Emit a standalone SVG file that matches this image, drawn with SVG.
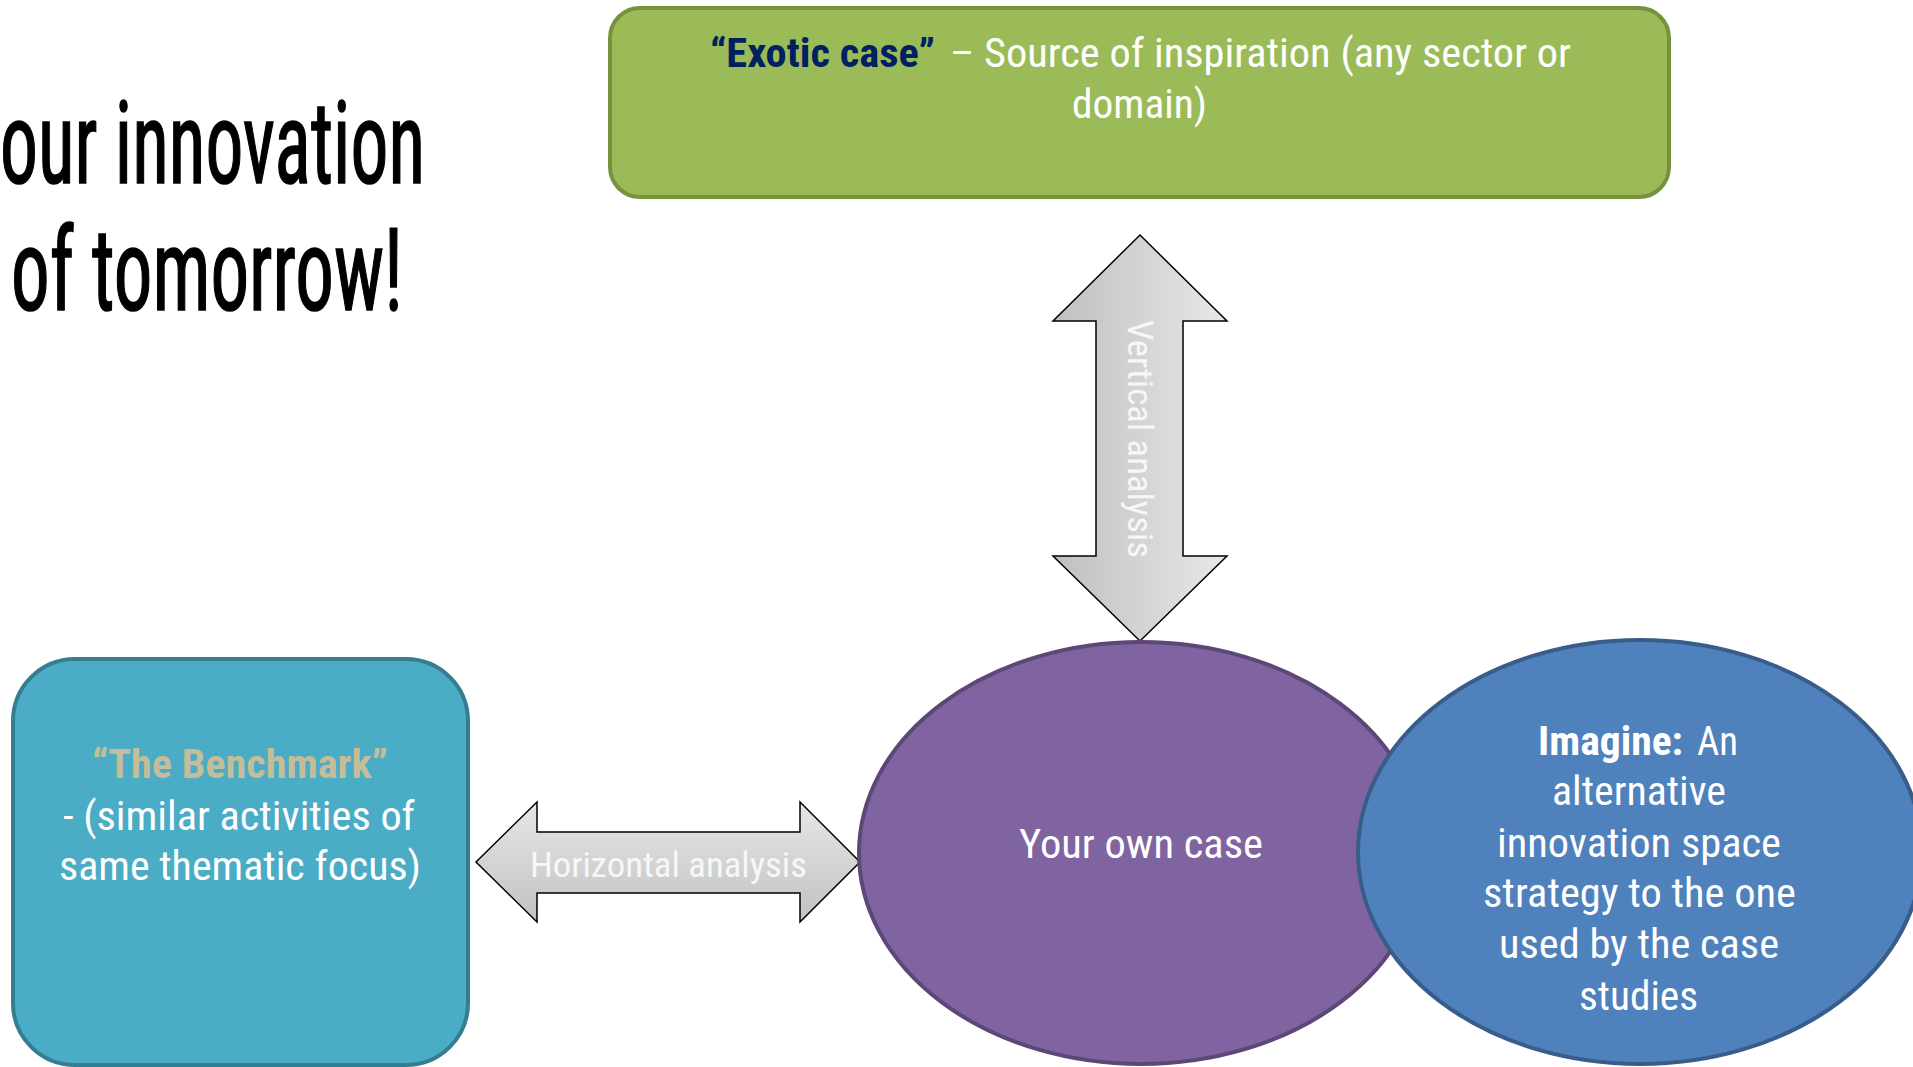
<svg xmlns="http://www.w3.org/2000/svg" width="1913" height="1067" viewBox="0 0 1913 1067">
<style>
  .t { font-family: "Roboto Condensed", Roboto, "Liberation Sans", sans-serif; font-size: 40px; fill: #ffffff; }
  .b { font-weight: bold; }
  .arrowtxt { font-family: "Roboto Condensed", Roboto, "Liberation Sans", sans-serif; font-size: 35px; fill: #f7f7f7; font-weight: normal; }
  .title { font-family: "Roboto Condensed", Roboto, "Liberation Sans", sans-serif; font-size: 115px; font-weight: normal; fill: #000000; stroke: #000000; stroke-width: 1.5; }
  .arrow { stroke: #000000; stroke-width: 1.5; stroke-linejoin: miter; }
</style>
<defs>
  <linearGradient id="gv" x1="0" y1="0" x2="1" y2="0">
    <stop offset="0" stop-color="#bfbfbf"/>
    <stop offset="1" stop-color="#e8e8e8"/>
  </linearGradient>
  <linearGradient id="gh" x1="0" y1="0" x2="0" y2="1">
    <stop offset="0" stop-color="#e6e6e6"/>
    <stop offset="1" stop-color="#c2c2c2"/>
  </linearGradient>
</defs>
<rect width="1913" height="1067" fill="#ffffff"/>

<g id="title">
  <text class="title" x="0" y="183" textLength="425" lengthAdjust="spacingAndGlyphs">our innovation</text>
  <text class="title" x="11" y="310" textLength="392" lengthAdjust="spacingAndGlyphs">of tomorrow!</text>
</g>

<g id="exotic">
  <rect x="610" y="8" width="1059" height="189" rx="30" ry="30" fill="#9bbb59" stroke="#76923c" stroke-width="4"/>
  <text class="t b" x="710" y="67" textLength="225" lengthAdjust="spacingAndGlyphs" style="fill:#002060">“Exotic case”</text>
  <text class="t" x="950" y="67" textLength="621" lengthAdjust="spacingAndGlyphs">– Source of inspiration (any sector or</text>
  <text class="t" x="1072" y="118" textLength="135" lengthAdjust="spacingAndGlyphs">domain)</text>
</g>

<g id="connectors">
  <g id="vertical-arrow">
    <polygon class="arrow" fill="url(#gv)" points="1140,235 1227,321 1183,321 1183,556 1227,556 1140,641 1053,556 1096,556 1096,321 1053,321"/>
    <text class="arrowtxt" transform="translate(1128,439) rotate(90)" text-anchor="middle" textLength="238" lengthAdjust="spacingAndGlyphs">Vertical analysis</text>
  </g>
  <g id="horizontal-arrow">
    <polygon class="arrow" fill="url(#gh)" points="476,862 537,802 537,832 800,832 800,802 860,862 800,922 800,893 537,893 537,922"/>
    <text class="arrowtxt" x="530" y="877" textLength="277" lengthAdjust="spacingAndGlyphs">Horizontal analysis</text>
  </g>
</g>

<g id="benchmark">
  <rect x="13" y="659" width="455" height="406" rx="62" ry="62" fill="#4bacc6" stroke="#357d91" stroke-width="4"/>
  <text class="t b" x="92" y="778" textLength="296" lengthAdjust="spacingAndGlyphs" style="fill:#c4bd97">“The Benchmark”</text>
  <text class="t" x="63" y="830" textLength="352" lengthAdjust="spacingAndGlyphs">- (similar activities of</text>
  <text class="t" x="59" y="880" textLength="362" lengthAdjust="spacingAndGlyphs">same thematic focus)</text>
</g>

<g id="own-case">
  <ellipse cx="1141" cy="853" rx="282" ry="211" fill="#8064a2" stroke="#5c4776" stroke-width="4"/>
  <text class="t" x="1019" y="858" textLength="244" lengthAdjust="spacingAndGlyphs">Your own case</text>
</g>

<g id="imagine">
  <ellipse cx="1640" cy="852" rx="282" ry="212" fill="#4f81bd" stroke="#385d8a" stroke-width="4"/>
  <text class="t b" x="1538" y="755" textLength="145" lengthAdjust="spacingAndGlyphs">Imagine:</text>
  <text class="t" x="1697" y="755" textLength="41" lengthAdjust="spacingAndGlyphs">An</text>
  <text class="t" x="1552" y="805" textLength="174" lengthAdjust="spacingAndGlyphs">alternative</text>
  <text class="t" x="1497" y="857" textLength="284" lengthAdjust="spacingAndGlyphs">innovation space</text>
  <text class="t" x="1483" y="907" textLength="313" lengthAdjust="spacingAndGlyphs">strategy to the one</text>
  <text class="t" x="1499" y="958" textLength="280" lengthAdjust="spacingAndGlyphs">used by the case</text>
  <text class="t" x="1579" y="1010" textLength="119" lengthAdjust="spacingAndGlyphs">studies</text>
</g>
</svg>
